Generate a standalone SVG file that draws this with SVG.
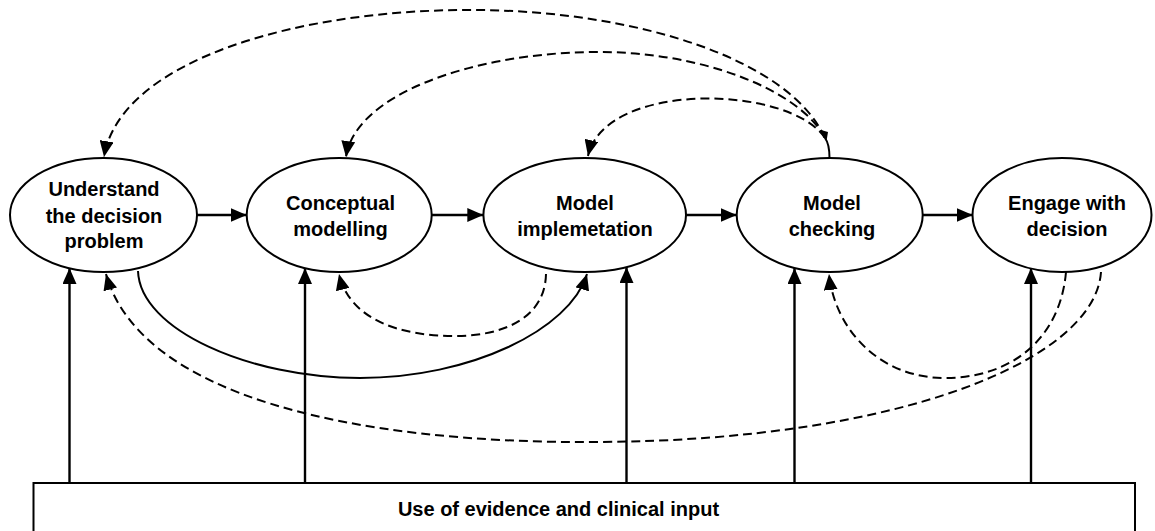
<svg xmlns="http://www.w3.org/2000/svg" width="1155" height="531" viewBox="0 0 1155 531">
<style>
.node ellipse{fill:#fff;stroke:#000;stroke-width:2}
.lbl{font-family:"Liberation Sans",Arial,sans-serif;font-weight:bold;font-size:20px;fill:#000;text-anchor:middle}
.solid{fill:none;stroke:#000;stroke-width:2.4}
.curve{fill:none;stroke:#000;stroke-width:2}
.dash{fill:none;stroke:#000;stroke-width:2;stroke-dasharray:9,5}
.box{fill:#fff;stroke:#000;stroke-width:2}
</style>
<defs>
<marker id="ah" markerUnits="userSpaceOnUse" markerWidth="17" markerHeight="14" refX="16" refY="7" orient="auto">
<path d="M0,0 L16,7 L0,14 z" fill="#000"/>
</marker>
</defs>
<rect width="1155" height="531" fill="#fff"/>
<g id="evidence">
<rect class="box" x="33.5" y="483" width="1101.5" height="60"/>
<text class="lbl" x="558.5" y="516">Use of evidence and clinical input</text>
</g>
<g id="connectors">
<!-- forward flow -->
<path class="solid" d="M197,215 L246.7,215" marker-end="url(#ah)"/>
<path class="solid" d="M431.7,215 L483.3,215" marker-end="url(#ah)"/>
<path class="solid" d="M686,215 L736.7,215" marker-end="url(#ah)"/>
<path class="solid" d="M922.7,215 L972.7,215" marker-end="url(#ah)"/>
<!-- evidence inputs -->
<path class="solid" d="M69.5,483 L69.5,268" marker-end="url(#ah)"/>
<path class="solid" d="M305,483 L305,268" marker-end="url(#ah)"/>
<path class="solid" d="M626.5,483 L626.5,267" marker-end="url(#ah)"/>
<path class="solid" d="M794.5,483 L794.5,268" marker-end="url(#ah)"/>
<path class="solid" d="M1031,483 L1031,268" marker-end="url(#ah)"/>
<!-- feedback from model checking (top) -->
<path class="curve" d="M829.5,158 C829.5,149 828,142 825,138"/>
<path d="M821,130 L828,132 L826.5,141 z" fill="#000"/>
<path class="dash" d="M825,138 C790,60 640,12 480,10 C300,8 120,60 104,157" marker-end="url(#ah)"/>
<path class="dash" d="M825,138 C800,90 700,50 590,52 C470,54 355,95 346,157" marker-end="url(#ah)"/>
<path class="dash" d="M825,138 C790,85 605,80 588,156" marker-end="url(#ah)"/>
<!-- bottom loops -->
<path class="curve" d="M138,271 C140,330 250,378 360,378 C470,378 570,330 587,274" marker-end="url(#ah)"/>
<path class="dash" d="M546,274 C545,320 500,336 455,336 C400,336 350,320 339,274" marker-end="url(#ah)"/>
<path class="dash" d="M1066,272 C1060,340 1010,378 945,378 C880,378 835,330 829,274" marker-end="url(#ah)"/>
<path class="dash" d="M1101,272 C1095,360 900,440 600,442 C350,444 140,395 106,274" marker-end="url(#ah)"/>
</g>
<g id="n1" class="node">
<ellipse cx="103.5" cy="215" rx="93.5" ry="57"/>
<text class="lbl" x="104" y="196">Understand</text>
<text class="lbl" x="104" y="222.5">the decision</text>
<text class="lbl" x="104" y="248">problem</text>
</g>
<g id="n2" class="node">
<ellipse cx="339.2" cy="215" rx="92.5" ry="57"/>
<text class="lbl" x="340.5" y="210">Conceptual</text>
<text class="lbl" x="340.5" y="236">modelling</text>
</g>
<g id="n3" class="node">
<ellipse cx="584.7" cy="215" rx="101.3" ry="57"/>
<text class="lbl" x="585" y="210">Model</text>
<text class="lbl" x="585" y="236">implemetation</text>
</g>
<g id="n4" class="node">
<ellipse cx="829.7" cy="215" rx="93" ry="57"/>
<text class="lbl" x="832" y="210">Model</text>
<text class="lbl" x="832" y="236">checking</text>
</g>
<g id="n5" class="node">
<ellipse cx="1062" cy="215" rx="89.5" ry="57"/>
<text class="lbl" x="1067" y="210">Engage with</text>
<text class="lbl" x="1067" y="236">decision</text>
</g>
</svg>
